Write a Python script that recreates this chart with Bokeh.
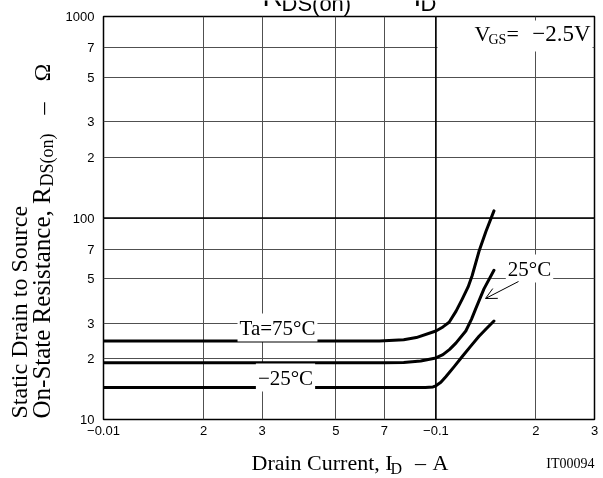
import math
from bokeh.plotting import figure
from bokeh.models import FixedTicker, Label, BoxAnnotation, Span, Arrow, OpenHead
from bokeh.embed import file_html
from bokeh.resources import INLINE

# ---- data ----
x_ticks = [0.01, 0.02, 0.03, 0.05, 0.07, 0.1, 0.2, 0.3]
x_tick_labels = ["\u22120.01", "2", "3", "5", "7", "\u22120.1", "2", "3"]
y_ticks = [10, 20, 30, 50, 70, 100, 200, 300, 500, 700, 1000]
y_tick_labels = ["10", "2", "3", "5", "7", "100", "2", "3", "5", "7", "1000"]

id_75 = [0.01, 0.03, 0.0676, 0.08, 0.0873, 0.1, 0.105, 0.1096, 0.115, 0.120, 0.125, 0.1285, 0.1348, 0.1415, 0.1495]
r_75 = [24.5, 24.5, 24.5, 24.9, 25.5, 27.5, 28.8, 30.4, 34.5, 39.6, 45.5, 51.7, 68.3, 86.0, 108.5]

id_25 = [0.01, 0.07, 0.08, 0.09, 0.1, 0.105, 0.11, 0.115, 0.123, 0.128, 0.1318, 0.1395, 0.1495]
r_25 = [19.1, 19.1, 19.2, 19.5, 20.2, 21.0, 22.3, 24.0, 27.5, 31.5, 35.5, 44.5, 55.0]

id_m25 = [0.01, 0.093, 0.098, 0.1, 0.1035, 0.1071, 0.1135, 0.1202, 0.1275, 0.1348, 0.142, 0.1495]
r_m25 = [14.4, 14.4, 14.5, 14.7, 15.3, 16.3, 18.3, 20.6, 23.2, 25.9, 28.3, 30.8]

# ---- main figure ----
W, H = 603, 478
FL, FR, FT, FB = 103, 594, 16, 419
p = figure(width=W, height=H, x_axis_type="log", y_axis_type="log",
           x_range=(0.01, 0.3), y_range=(10, 1000),
           output_backend="svg", toolbar_location=None,
           min_border_left=FL, min_border_right=W - FR,
           min_border_top=FT, min_border_bottom=H - FB)
p.styles = {"position": "fixed", "top": "0px", "left": "0px"}
p.background_fill_color = "white"
p.border_fill_color = "white"
p.outline_line_color = "black"
p.outline_line_width = 1.5

# pixel -> data helpers for annotation placement inside the frame
def X(px):
    return 10 ** ((px - FL) / (FR - FL) * math.log10(30) - 2)

def Y(py):
    return 10 ** ((FB - py) / (FB - FT) * 2 + 1)

p.xaxis.ticker = FixedTicker(ticks=x_ticks, minor_ticks=[])
p.yaxis.ticker = FixedTicker(ticks=y_ticks, minor_ticks=[])
p.xaxis.major_label_overrides = {t: s for t, s in zip(x_ticks, x_tick_labels)}
p.yaxis.major_label_overrides = {t: s for t, s in zip(y_ticks, y_tick_labels)}
for ax in (p.xaxis, p.yaxis):
    ax.axis_line_color = None
    ax.major_tick_line_color = None
    ax.minor_tick_line_color = None
    ax.major_tick_out = 0
    ax.major_tick_in = 0
    ax.major_label_text_font = "Liberation Sans"
    ax.major_label_text_font_size = "13px"
    ax.major_label_text_color = "black"
p.xaxis.major_label_standoff = 6
p.yaxis.major_label_standoff = 9

p.xgrid.grid_line_color = "#505050"
p.ygrid.grid_line_color = "#505050"
p.xgrid.grid_line_width = 1
p.ygrid.grid_line_width = 1
p.add_layout(Span(location=0.1, dimension="height", line_color="black", line_width=1.6, level="underlay"))
p.add_layout(Span(location=100, dimension="width", line_color="black", line_width=1.6, level="underlay"))

for xs, ys in ((id_75, r_75), (id_25, r_25), (id_m25, r_m25)):
    p.line(xs, ys, line_width=3, line_color="black", line_join="round", line_cap="round")

# white box behind VGS label
p.add_layout(BoxAnnotation(left=X(437), right=X(592), top=Y(20), bottom=Y(51),
                           fill_color="white", fill_alpha=1, line_color=None))

SERIF = "Liberation Serif"
SANS = "Liberation Sans"

def lab(px, py, text, size, font=SERIF, align="left", angle=0, bg=None):
    kw = {}
    if bg:
        kw = dict(background_fill_color=bg, background_fill_alpha=1.0, padding=2)
    p.add_layout(Label(x=X(px), y=Y(py), text=text, text_font=font,
                       text_font_size=f"{size}px", text_align=align,
                       text_baseline="middle", angle=angle, text_color="black", **kw))

# curve annotations
lab(277, 327, "Ta=75\u00b0C", 21, align="center", bg="white")
lab(285, 377, "\u221225\u00b0C", 21, align="center", bg="white")
lab(529, 268, "25\u00b0C", 21, align="center", bg="white")
p.add_layout(Arrow(x_start=X(518), y_start=Y(281), x_end=X(485), y_end=Y(298),
                   line_width=1, line_color="black",
                   end=OpenHead(size=11, line_width=1, line_color="black")))

# VGS
lab(474, 33, "V", 22)
lab(488, 39, "GS", 14)
lab(506, 33, "=", 22)
lab(590, 33, "\u22122.5V", 23, align="right")

# ---- transparent overlay for texts outside the frame (pixel coordinates) ----
q = figure(width=W, height=H, x_range=(0, W), y_range=(0, H), title=None,
           x_axis_location=None, y_axis_location=None,
           output_backend="svg", toolbar_location=None, min_border=0)
q.grid.visible = False
q.outline_line_color = None
q.background_fill_color = None
q.border_fill_color = None
q.styles = {"position": "fixed", "top": "0px", "left": "0px", "pointer-events": "none"}

def olab(px, py, text, size, font=SERIF, align="left", angle=0):
    q.add_layout(Label(x=px, y=H - py, text=text, text_font=font,
                       text_font_size=f"{size}px", text_align=align,
                       text_baseline="middle", angle=angle, text_color="black"))

# x axis title
olab(251, 462, "Drain Current, I", 22)
olab(390, 468, "D", 16)
olab(420, 462, "\u2013", 22, align="center")
olab(440, 462, "A", 22, align="center")
olab(594, 463, "IT00094", 14, align="right")

# y axis title (rotated)
ang = math.pi / 2
olab(18, 418, "Static Drain to Source", 24, angle=ang)
olab(41, 418, "On-State Resistance, R", 25, angle=ang)
olab(46, 186, "DS(on)", 18, angle=ang)
olab(41, 108, "\u2013", 24, align="center", angle=ang)
olab(41, 72, "\u03a9", 24, align="center", angle=ang)

# clipped title at the very top
olab(262, -4, "R", 28, font=SANS)
olab(281, 3, "DS(on)", 22, font=SANS)
olab(385, -8, "\u2014", 28, font=SANS, align="center")
olab(413, -4, "I", 28, font=SANS)
olab(420, 3, "D", 22, font=SANS)

open("out.html", "w").write(file_html([p, q], INLINE))
